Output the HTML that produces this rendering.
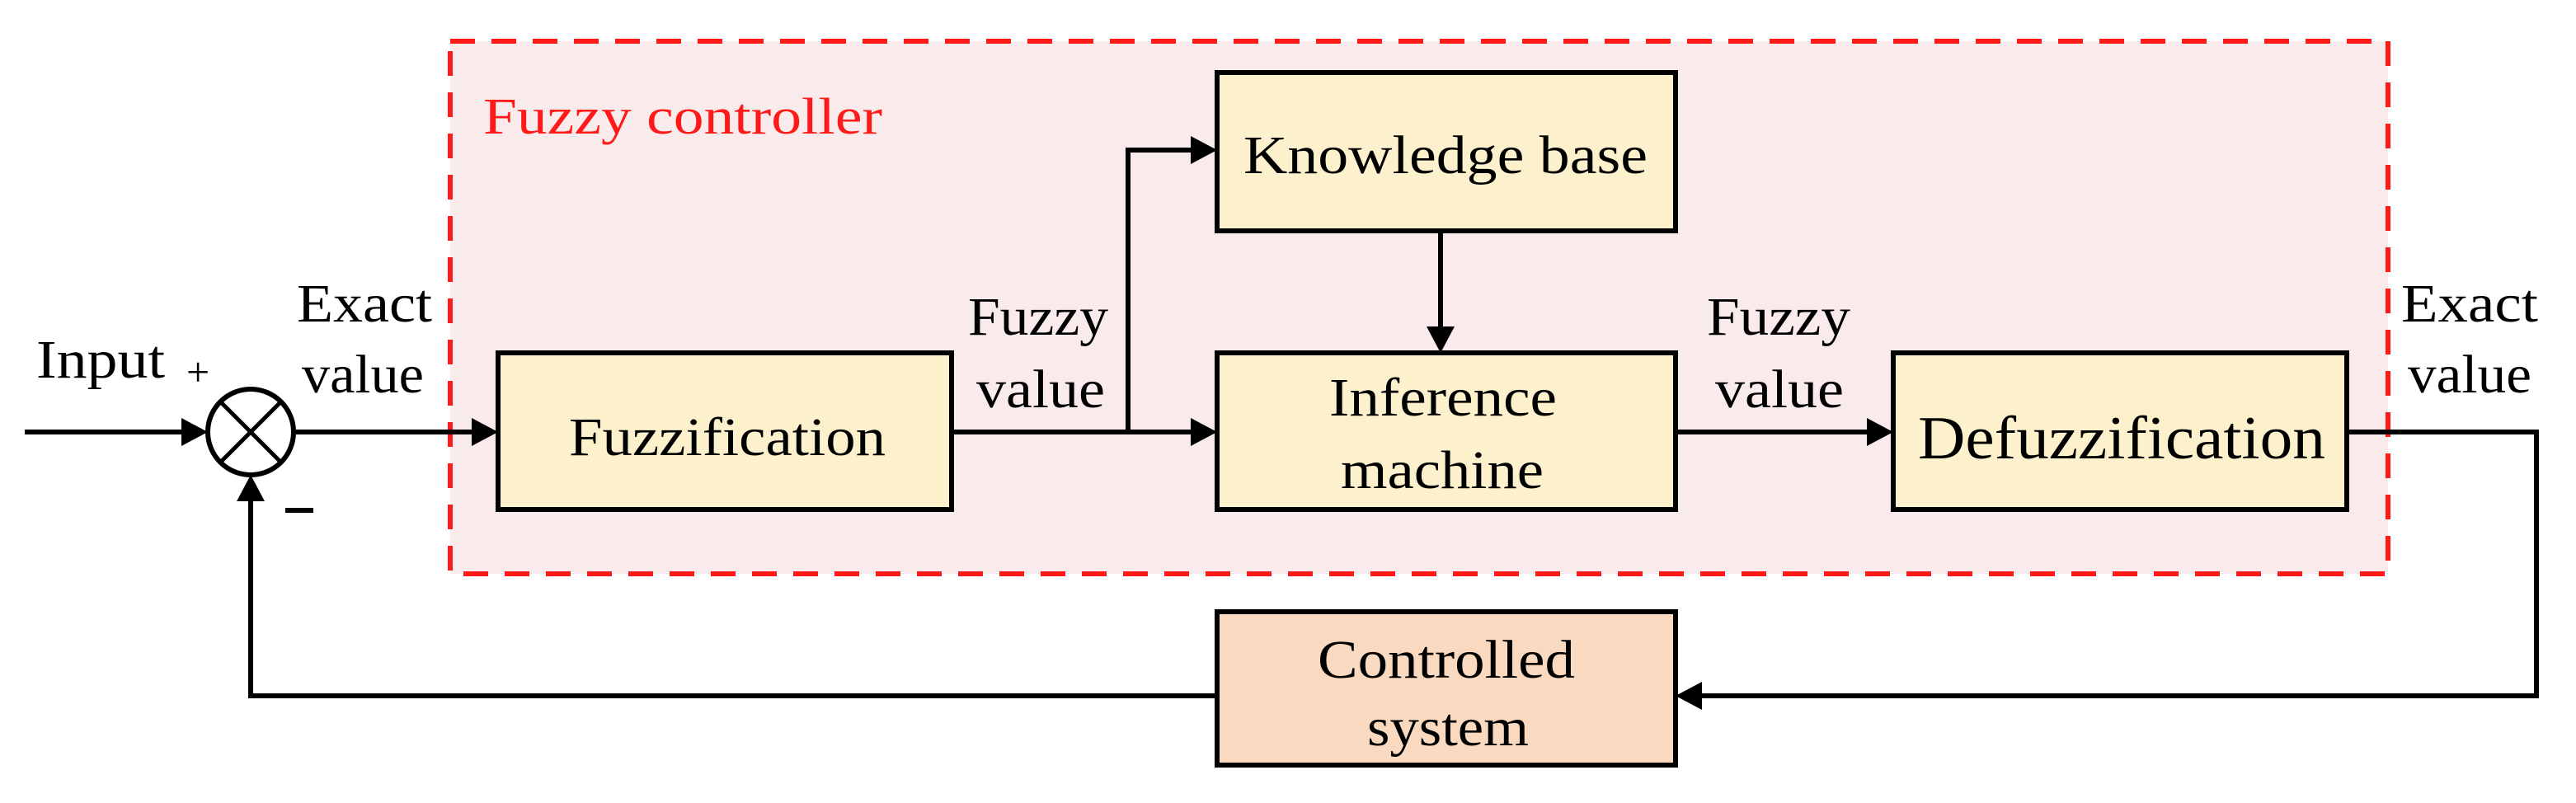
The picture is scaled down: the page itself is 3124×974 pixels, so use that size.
<!DOCTYPE html>
<html><head><meta charset="utf-8"><style>html,body{margin:0;padding:0;background:#fff}svg{display:block}</style></head>
<body>
<svg width="3124" height="974" viewBox="0 0 3124 974" xmlns="http://www.w3.org/2000/svg" font-family="'Liberation Serif', serif">
<rect x="546" y="50" width="2350" height="646" fill="#f9ebeb" stroke="#ff1a1a" stroke-width="6" stroke-dasharray="30,20"/>
<text x="586" y="162" font-size="62" fill="#ff1a1a" textLength="484" lengthAdjust="spacingAndGlyphs">Fuzzy controller</text>

<g stroke="#000" stroke-width="6" fill="#fdf0cc">
<rect x="604" y="428" width="550" height="190"/>
<rect x="1476" y="88" width="556" height="192"/>
<rect x="1476" y="428" width="556" height="190"/>
<rect x="2296" y="428" width="550" height="190"/>
<rect x="1476" y="742" width="556" height="186" fill="#f9d9bf"/>
<circle cx="304" cy="524" r="52" fill="#fff"/>
</g>
<g stroke="#000" stroke-width="5" fill="none">
<line x1="267" y1="487" x2="341" y2="561"/>
<line x1="341" y1="487" x2="267" y2="561"/>
</g>
<g stroke="#000" stroke-width="6" fill="none">
<line x1="30" y1="524" x2="230" y2="524"/>
<line x1="356" y1="524" x2="580" y2="524"/>
<line x1="1154" y1="524" x2="1452" y2="524"/>
<polyline points="1368,524 1368,182 1452,182"/>
<line x1="1747" y1="280" x2="1747" y2="402"/>
<line x1="2032" y1="524" x2="2272" y2="524"/>
<polyline points="2846,524 3076,524 3076,844 2058,844"/>
<polyline points="1476,844 304,844 304,602"/>
</g>
<g fill="#000">
<polygon points="252,524 220,507 220,541"/>
<polygon points="604,524 572,507 572,541"/>
<polygon points="1476,524 1444,507 1444,541"/>
<polygon points="1476,182 1444,165 1444,199"/>
<polygon points="1747,428 1730,396 1764,396"/>
<polygon points="2296,524 2264,507 2264,541"/>
<polygon points="2032,844 2064,827 2064,861"/>
<polygon points="304,576 287,608 321,608"/>
</g>
<g font-size="66" fill="#000">
<text x="44" y="458" textLength="156" lengthAdjust="spacingAndGlyphs">Input</text>
<text x="226" y="468" font-size="50">+</text>
<rect x="346" y="616" width="34" height="6"/>
<text x="360" y="390" textLength="164" lengthAdjust="spacingAndGlyphs">Exact</text>
<text x="366" y="476" textLength="148" lengthAdjust="spacingAndGlyphs">value</text>
<text x="1174" y="406" textLength="170" lengthAdjust="spacingAndGlyphs">Fuzzy</text>
<text x="1184" y="494" textLength="156" lengthAdjust="spacingAndGlyphs">value</text>
<text x="2070" y="406" textLength="174" lengthAdjust="spacingAndGlyphs">Fuzzy</text>
<text x="2080" y="494" textLength="156" lengthAdjust="spacingAndGlyphs">value</text>
<text x="2912" y="390" textLength="166" lengthAdjust="spacingAndGlyphs">Exact</text>
<text x="2920" y="476" textLength="150" lengthAdjust="spacingAndGlyphs">value</text>
<text x="690" y="552" textLength="384" lengthAdjust="spacingAndGlyphs">Fuzzification</text>
<text x="1508" y="210" textLength="490" lengthAdjust="spacingAndGlyphs">Knowledge base</text>
<text x="1612" y="504" textLength="276" lengthAdjust="spacingAndGlyphs">Inference</text>
<text x="1626" y="592" textLength="246" lengthAdjust="spacingAndGlyphs">machine</text>
<text x="2326" y="556" font-size="74" textLength="494" lengthAdjust="spacingAndGlyphs">Defuzzification</text>
<text x="1598" y="822" textLength="312" lengthAdjust="spacingAndGlyphs">Controlled</text>
<text x="1658" y="904" textLength="196" lengthAdjust="spacingAndGlyphs">system</text>
</g>
</svg>
</body></html>
